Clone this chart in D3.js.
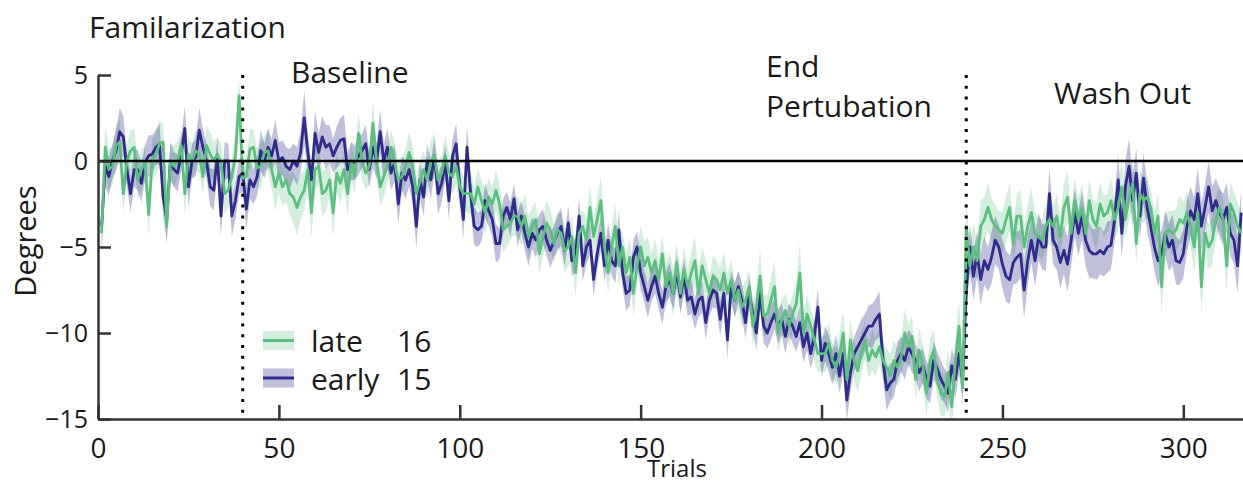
<!DOCTYPE html>
<html>
<head>
<meta charset="utf-8">
<script src="https://cdn.jsdelivr.net/npm/d3@7"></script>
<style>
  body { margin: 0; background: #fff; }
  text { font-family: "Open Sans", sans-serif; fill: #1a1a1a; }
</style>
</head>
<body>
<div id="plot"></div>
<script>
// mean error (degrees) per trial
var late = [
  -4.2, 0.8, -0.5, -0.3, 0.9, 1.1, -1.9, 0.0, 0.6, 0.8,
  -1.1, -0.5, -0.1, -3.1, 0.1, 0.4, 1.0, 1.1, -3.8, 0.0,
  -0.3, 0.0, 0.9, -1.9, 0.4, 0.0, 0.6, 0.4, -0.9, 0.9,
  0.4, 0.0, 0.4, -0.1, -1.9, -1.7, -0.9, 0.3, 3.8, -1.0,
  -0.9, 0.7, 0.8, -0.4, -0.3, 0.5, 0.6, -0.5, -1.5, -0.7,
  -1.5, -1.1, -1.9, -2.1, -2.7, -2.1, -1.7, -0.5, -3.0, -0.5,
  -0.3, -1.9, -1.7, -1.1, -3.0, -0.7, -1.3, -0.5, -1.9, 0.0,
  -0.9, 1.6, 0.0, -0.7, -0.3, 2.2, 0.0, -1.5, -0.9, -0.3,
  0.8, -0.1, -1.1, -0.9, -0.3, 0.5, -0.3, -1.9, -1.2, -0.5,
  -1.1, 0.0, 0.3, -1.1, -0.7, 0.3, -0.7, -0.9, -0.3, -1.5,
  -1.9, -1.9, -1.9, -2.5, -1.5, -2.3, -3.0, -2.1, -2.5, -1.7,
  -2.5, -4.0, -3.8, -3.6, -3.2, -3.2, -3.8, -3.2, -4.4, -3.8,
  -3.4, -5.4, -4.4, -3.6, -4.0, -4.8, -4.0, -4.2, -5.2, -5.0,
  -4.4, -6.5, -4.2, -3.8, -4.6, -2.7, -4.4, -3.4, -2.3, -5.0,
  -6.5, -5.0, -3.8, -6.1, -5.0, -6.5, -5.6, -7.7, -6.1, -5.0,
  -6.1, -5.6, -6.5, -5.8, -6.9, -5.4, -7.3, -6.5, -7.7, -5.9,
  -7.7, -6.3, -7.3, -6.5, -5.8, -7.7, -6.1, -6.9, -7.7, -6.7,
  -6.9, -7.5, -6.5, -7.7, -6.9, -8.1, -7.5, -8.5, -8.1, -7.3,
  -9.6, -8.5, -6.7, -9.0, -8.9, -8.1, -7.3, -10.0, -9.2, -8.7,
  -9.6, -8.9, -8.3, -6.5, -10.0, -8.9, -9.6, -10.4, -11.2, -11.2,
  -11.2, -10.6, -11.6, -12.0, -11.2, -10.0, -12.7, -10.4, -11.6, -12.2,
  -11.2, -10.4, -11.6, -11.0, -11.4, -10.8, -11.6, -12.0, -12.5, -11.6,
  -12.0, -11.4, -10.0, -10.8, -10.2, -12.7, -11.0, -11.9, -13.5, -11.6,
  -11.0, -12.7, -13.5, -13.7, -12.3, -14.3, -11.6, -9.6, -13.2, -3.8,
  -6.1, -5.0, -5.8, -3.8, -3.4, -2.7, -3.4, -3.8, -4.0, -4.2,
  -3.4, -2.7, -4.8, -3.2, -3.2, -5.0, -3.8, -3.0, -4.2, -4.4,
  -4.6, -3.8, -3.4, -3.8, -3.2, -4.4, -2.7, -2.1, -4.2, -2.3,
  -3.4, -2.7, -4.2, -2.3, -3.4, -3.8, -2.5, -3.2, -3.0, -2.3,
  -3.4, -2.7, -1.5, -3.4, -2.1, -1.3, -4.8, -1.9, -2.3, -2.1,
  -2.7, -4.2, -3.2, -7.3, -4.2, -4.0, -4.2, -4.0, -3.4, -3.6,
  -3.0, -3.8, -5.0, -3.0, -7.3, -4.2, -5.0, -4.6, -3.4, -2.7,
  -3.4, -6.1, -2.5, -3.0, -3.8, -4.2
];
var early = [
  -3.8, -0.3, -0.9, 0.0, 0.6, 1.7, 1.4, -0.5, -1.9, -0.5,
  -0.5, -1.3, -0.1, 0.3, 0.4, 0.8, 1.0, -2.1, -3.4, 0.0,
  -0.5, -0.7, 0.4, 1.9, -1.5, 0.0, 0.2, 1.8, 0.8, 0.0,
  -1.5, -1.7, 0.3, -3.2, 0.0, 0.0, -3.2, -2.3, -0.9, -0.7,
  -2.8, -1.1, -1.5, -0.9, 0.6, 0.0, 0.8, 0.3, 1.2, 0.0,
  0.2, -0.3, -0.5, 0.0, -0.3, 0.5, 2.5, 0.5, -1.1, 1.6,
  0.5, 1.4, 0.8, 1.0, 0.3, 0.8, 1.2, 1.3, -0.5, 0.0,
  -0.1, 0.3, 0.6, 1.0, -0.5, 0.8, 0.0, 1.7, 0.0, 0.8,
  -0.7, -0.1, -2.5, -0.7, -1.1, -0.5, -1.5, -3.8, -1.1, -2.1,
  0.0, -1.1, 0.3, -1.9, -1.3, -0.1, -2.3, 0.3, 1.0, -1.5,
  -3.4, 0.8, -1.9, -3.8, -4.0, -3.8, -2.3, -2.9, -3.4, -4.8,
  -4.8, -3.2, -2.7, -3.4, -2.2, -4.0, -3.2, -4.2, -5.0, -4.2,
  -4.6, -4.0, -3.8, -4.6, -5.2, -4.7, -4.2, -3.8, -5.2, -3.6,
  -5.8, -5.4, -3.2, -6.1, -5.0, -4.6, -6.9, -5.4, -4.2, -6.1,
  -4.6, -5.8, -6.1, -4.0, -6.5, -7.7, -7.5, -5.6, -5.0, -6.5,
  -7.3, -8.1, -7.3, -6.7, -7.7, -8.5, -7.3, -6.9, -7.7, -6.5,
  -7.9, -6.7, -8.1, -7.9, -8.9, -8.1, -7.9, -9.4, -8.1, -7.5,
  -7.7, -9.2, -7.7, -10.4, -7.3, -8.1, -7.3, -8.1, -9.4, -7.7,
  -8.9, -10.0, -7.7, -9.6, -10.0, -9.4, -8.9, -9.6, -9.2, -10.2,
  -9.2, -9.6, -10.2, -9.4, -10.8, -10.0, -11.2, -10.2, -8.5, -11.6,
  -10.6, -11.2, -12.0, -11.2, -12.5, -11.2, -13.9, -12.3, -11.2, -10.8,
  -10.4, -10.0, -9.6, -9.6, -9.2, -8.9, -11.6, -13.3, -12.9, -12.7,
  -11.6, -11.2, -11.6, -10.8, -11.2, -11.6, -12.3, -11.9, -12.7, -13.1,
  -11.6, -12.1, -12.7, -13.1, -13.5, -11.9, -12.7, -11.2, -12.8, -7.6,
  -5.0, -6.7, -5.4, -6.9, -5.8, -6.3, -5.6, -4.6, -5.0, -6.0,
  -6.7, -6.9, -5.9, -5.6, -5.4, -7.5, -5.8, -4.6, -5.8, -4.4,
  -5.0, -5.0, -1.9, -4.6, -5.0, -5.9, -5.2, -6.0, -4.6, -3.0,
  -4.2, -3.2, -4.6, -5.2, -5.4, -5.4, -5.2, -5.4, -5.0, -4.9,
  -3.4, -1.1, -4.2, -1.5, -0.3, -2.3, -0.7, -3.2, -1.0, -2.7,
  -3.8, -5.0, -5.8, -5.4, -4.2, -5.0, -4.6, -5.8, -5.9, -5.4,
  -3.8, -2.9, -3.4, -1.9, -3.8, -2.7, -1.5, -2.9, -2.3, -3.0,
  -3.4, -2.7, -4.2, -4.6, -6.1, -3.0
];
// half width of the shaded band per trial
var lateSem = [
  1.4,1.3,1.2,1.1,1.2,1.3,1.1,1.0,1.2,1.1, 1.1,1.2,1.0,1.3,1.1,1.2,1.3,1.1,1.3,1.0,
  1.2,1.1,1.0,1.3,1.1,1.0,1.2,1.1,1.0,1.2, 1.3,1.1,1.0,1.1,1.2,1.0,1.1,1.2,1.1,1.0,
  1.1,1.2,1.0,1.1,1.3,1.0,1.2,1.1,1.4,1.2, 1.1,1.3,1.2,1.5,1.6,1.3,1.2,1.1,1.4,1.2,
  1.1,1.3,1.2,1.0,1.4,1.1,1.2,1.0,1.3,1.1, 1.0,1.2,1.1,1.0,1.1,1.3,1.0,1.1,1.2,1.0,
  1.1,1.0,1.2,1.1,1.0,1.2,1.1,1.0,1.2,1.1, 1.0,1.2,1.3,1.1,1.0,1.2,1.1,1.0,1.1,1.2,
  1.0,1.1,1.2,1.0,1.1,1.2,1.3,1.1,1.0,1.2, 1.1,1.3,1.2,1.0,1.1,1.2,1.1,1.3,1.2,1.1,
  1.0,1.2,1.1,1.3,1.2,1.1,1.0,1.2,1.3,1.1, 1.2,1.4,1.1,1.0,1.2,1.3,1.1,1.2,1.4,1.1,
  1.2,1.1,1.3,1.2,1.0,1.1,1.2,1.3,1.1,1.2, 1.4,1.2,1.1,1.3,1.2,1.1,1.3,1.2,1.4,1.1,
  1.2,1.3,1.1,1.2,1.4,1.3,1.1,1.2,1.0,1.2, 1.1,1.3,1.2,1.1,1.2,1.0,1.1,1.2,1.1,1.0,
  1.2,1.1,1.6,1.2,1.1,1.3,1.5,1.2,1.1,1.0, 1.2,1.1,1.3,1.7,1.2,1.1,1.0,1.2,1.1,1.0,
  1.1,1.2,1.0,1.1,1.2,1.3,1.4,1.2,1.1,1.3, 1.2,1.1,1.0,1.2,1.1,1.0,1.2,1.1,1.3,1.2,
  1.1,1.2,1.4,1.3,1.2,1.1,1.3,1.2,1.4,1.3, 1.2,1.1,1.3,1.2,1.4,1.3,1.2,1.5,1.3,1.4,
  1.3,1.4,1.2,1.5,1.3,1.4,1.2,1.3,1.1,1.2, 1.3,1.4,1.2,1.3,1.5,1.2,1.3,1.4,1.2,1.1,
  1.2,1.3,1.4,1.2,1.3,1.1,1.4,1.5,1.2,1.3, 1.2,1.4,1.1,1.3,1.2,1.4,1.3,1.2,1.1,1.3,
  1.2,1.4,1.6,1.2,1.3,1.5,1.2,1.4,1.3,1.2, 1.1,1.2,1.3,1.6,1.2,1.1,1.3,1.2,1.4,1.2,
  1.3,1.2,1.4,1.3,1.6,1.2,1.3,1.4,1.2,1.3, 1.2,1.5,1.3,1.2,1.4,1.3
];
var earlySem = [
  1.3,1.2,1.1,1.0,1.2,1.4,1.2,1.0,1.1,1.0, 1.2,1.1,1.0,1.2,1.1,1.0,1.2,1.1,1.3,1.1,
  1.0,1.1,1.0,1.3,1.2,1.0,1.1,1.3,1.1,1.0, 1.1,1.2,1.0,1.2,1.1,1.0,1.2,1.1,1.0,1.1,
  1.2,1.1,1.0,1.1,1.2,1.0,1.1,1.0,1.2,1.1, 1.0,1.1,1.2,1.0,1.1,1.2,1.6,1.1,1.0,1.3,
  1.1,1.2,1.3,1.1,1.0,1.2,1.3,1.4,1.0,1.1, 1.0,1.1,1.0,1.1,1.0,1.2,1.0,1.3,1.0,1.1,
  1.0,1.1,1.2,1.0,1.1,1.0,1.1,1.3,1.0,1.1, 1.0,1.1,1.0,1.2,1.1,1.0,1.1,1.0,1.2,1.0,
  1.1,1.3,1.0,1.1,1.0,0.9,1.0,0.9,1.0,1.1, 0.9,1.0,0.9,1.0,0.9,1.0,0.9,1.0,1.1,0.9,
  1.0,0.9,1.0,0.9,1.0,0.9,1.0,1.1,0.9,1.0, 0.9,1.0,1.1,0.9,1.0,0.9,1.0,0.9,1.0,0.9,
  1.0,0.9,1.0,1.1,0.9,1.0,0.9,1.0,0.9,1.0, 0.9,1.0,0.9,1.0,0.9,1.0,0.9,1.0,0.9,1.0,
  0.9,1.0,0.9,1.0,0.9,1.0,0.9,1.0,0.9,1.0, 0.9,1.0,0.9,1.1,0.9,1.0,0.9,1.0,0.9,1.0,
  0.9,1.0,0.9,1.0,0.9,1.0,0.9,1.0,0.9,1.0, 0.9,1.0,0.9,1.0,0.9,1.0,0.9,1.0,1.1,1.0,
  1.0,1.1,1.0,1.1,1.0,1.1,1.2,1.1,1.0,1.1, 1.2,1.1,1.2,1.3,1.2,1.3,1.1,1.2,1.1,1.0,
  1.1,1.0,1.1,1.0,1.1,1.0,1.1,1.0,1.1,1.0, 1.1,1.0,1.1,1.0,1.1,1.0,1.1,1.2,1.1,1.3,
  1.3,1.4,1.3,1.5,1.4,1.3,1.5,1.4,1.3,1.4, 1.5,1.4,1.3,1.5,1.4,1.6,1.4,1.3,1.5,1.4,
  1.3,1.4,1.5,1.4,1.3,1.5,1.4,1.6,1.5,1.4, 1.3,1.4,1.5,1.6,1.4,1.5,1.4,1.3,1.5,1.4,
  1.3,1.5,1.4,1.5,1.6,1.5,1.4,1.3,1.5,1.4, 1.3,1.4,1.5,1.4,1.3,1.4,1.5,1.4,1.3,1.4,
  1.5,1.4,1.3,1.5,1.4,1.3,1.5,1.4,1.3,1.4, 1.5,1.4,1.3,1.4,1.6,1.4
];

var xTicks = [0, 50, 100, 150, 200, 250, 300];
var yTicks = [5, 0, -5, -10, -15];
var phaseBreaks = [40, 240];
var phaseNames = [["Familarization"], ["Baseline"], ["End", "Pertubation"], ["Wash Out"]];
var legendLabels = ["late", "early"];
var legendCounts = [16, 15];

var W = 1243, H = 482;
var green = "#5cbf7f", purple = "#2e2b8a";

var x = d3.scaleLinear().domain([0, 316.5]).range([98, 1243]);
var y = d3.scaleLinear().domain([-15, 5]).range([419, 75]);

var svg = d3.select("#plot").append("svg")
  .attr("width", W)
  .attr("height", H);

svg.append("clipPath").attr("id", "clip")
  .append("rect")
    .attr("x", x(0)).attr("y", 0)
    .attr("width", x.range()[1] - x(0))
    .attr("height", y(-15));

var series = [
  {mean: late, sem: lateSem, color: green, bandOpacity: 0.27},
  {mean: early, sem: earlySem, color: purple, bandOpacity: 0.3}
];

var area = d3.area()
  .x((d, i) => x(i + 1))
  .y0(d => y(d[0] - d[1]))
  .y1(d => y(d[0] + d[1]));

var line = d3.line()
  .x((d, i) => x(i + 1))
  .y(d => y(d));

var plot = svg.append("g").attr("clip-path", "url(#clip)");

series.forEach(s => {
  plot.append("path")
    .datum(s.mean.map((m, i) => [m, s.sem[i]]))
    .attr("d", area)
    .attr("fill", s.color)
    .attr("fill-opacity", s.bandOpacity);
});

// early drawn first, late on top
series.slice().reverse().forEach(s => {
  plot.append("path")
    .datum(s.mean)
    .attr("d", line)
    .attr("fill", "none")
    .attr("stroke", s.color)
    .attr("stroke-width", 2.8)
    .attr("stroke-linejoin", "round");
});

// zero line
svg.append("line")
  .attr("x1", x(0)).attr("x2", x.range()[1])
  .attr("y1", y(0)).attr("y2", y(0))
  .attr("stroke", "#000")
  .attr("stroke-width", 2.5);

// phase boundaries
svg.selectAll(".phase")
  .data(phaseBreaks)
  .enter().append("line")
    .attr("class", "phase")
    .attr("x1", d => x(d)).attr("x2", d => x(d))
    .attr("y1", y(5)).attr("y2", y(-15))
    .attr("stroke", "#000")
    .attr("stroke-width", 3)
    .attr("stroke-dasharray", "3,7.8");

// axes
var xAxis = svg.append("g")
  .attr("transform", "translate(0," + y(-15) + ")")
  .call(d3.axisBottom(x).tickValues(xTicks).tickSizeInner(-14).tickSizeOuter(0).tickPadding(19));

var yAxis = svg.append("g")
  .attr("transform", "translate(" + x(0) + ",0)")
  .call(d3.axisLeft(y).tickValues(yTicks).tickSizeInner(-13).tickSizeOuter(0).tickPadding(10));

[xAxis, yAxis].forEach(a => {
  a.select(".domain").attr("stroke", "#333").attr("stroke-width", 2.5);
  a.selectAll(".tick line").attr("stroke", "#333").attr("stroke-width", 2.5);
  a.selectAll(".tick text").attr("fill", "#1a1a1a").style("font-family", '"Open Sans", sans-serif');
});
xAxis.selectAll(".tick text").style("font-size", "28px");
yAxis.selectAll(".tick text").style("font-size", "25px");

// axis titles
svg.append("text")
  .attr("x", 677).attr("y", 477)
  .attr("text-anchor", "middle")
  .style("font-size", "24px")
  .text("Trials");

svg.append("text")
  .attr("transform", "translate(36,241) rotate(-90)")
  .attr("text-anchor", "middle")
  .style("font-size", "29px")
  .text("Degrees");

// phase labels
var phasePos = [[89, 38], [291, 83], [766, 77], [1054, 104]];
phaseNames.forEach((lines, k) => {
  var t = svg.append("text")
    .attr("x", phasePos[k][0]).attr("y", phasePos[k][1])
    .style("font-size", "30px");
  lines.forEach((s, j) => {
    t.append("tspan")
      .attr("x", phasePos[k][0])
      .attr("dy", j === 0 ? 0 : 39.5)
      .text(s);
  });
});

// legend
var legend = svg.append("g").attr("transform", "translate(263,331)");
legendLabels.forEach((lab, i) => {
  var s = series[i];
  var g = legend.append("g").attr("transform", "translate(0," + (i * 37.5) + ")");
  g.append("rect")
    .attr("width", 31).attr("height", 19)
    .attr("fill", s.color).attr("fill-opacity", s.bandOpacity);
  g.append("line")
    .attr("x1", 0).attr("x2", 31)
    .attr("y1", 9.5).attr("y2", 9.5)
    .attr("stroke", s.color).attr("stroke-width", 3);
  g.append("text")
    .attr("x", 48).attr("y", 21)
    .style("font-size", "30px")
    .text(lab);
  g.append("text")
    .attr("x", 134).attr("y", 21)
    .style("font-size", "30px")
    .text(legendCounts[i]);
});
</script>
</body>
</html>
